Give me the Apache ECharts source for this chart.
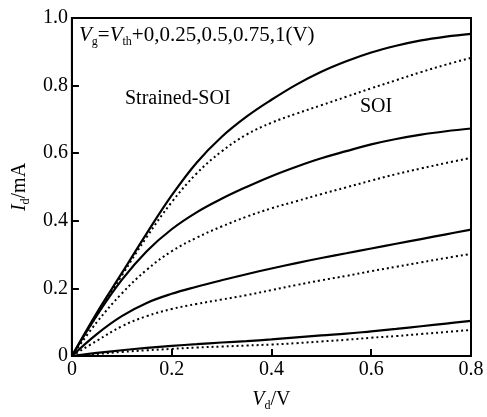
<!DOCTYPE html>
<html>
<head>
<meta charset="utf-8">
<script src="https://cdn.jsdelivr.net/npm/echarts@6/dist/echarts.min.js"></script>
<style>
  html, body { margin: 0; padding: 0; background: #fff; }
  #chart { width: 487px; height: 417px; }
</style>
</head>
<body>
<div id="chart"></div>
<script>
// Drain voltage samples (V)
const vd = [0, 0.05, 0.1, 0.15, 0.2, 0.25, 0.3, 0.35, 0.4, 0.45, 0.5, 0.55, 0.6, 0.65, 0.7, 0.75, 0.8];

// Drain current (mA), strained-SOI device, Vg = Vth + 0.25 / 0.5 / 0.75 / 1 V
const strained025 = [0, 0.009, 0.017, 0.024, 0.030, 0.035, 0.040, 0.044, 0.049, 0.055, 0.061, 0.066, 0.073, 0.080, 0.088, 0.096, 0.104];
const strained050 = [0, 0.065, 0.118, 0.157, 0.184, 0.205, 0.224, 0.242, 0.259, 0.275, 0.290, 0.304, 0.318, 0.332, 0.346, 0.360, 0.374];
const strained075 = [0, 0.120, 0.225, 0.310, 0.375, 0.425, 0.465, 0.500, 0.532, 0.560, 0.585, 0.606, 0.626, 0.642, 0.655, 0.665, 0.673];
const strained100 = [0, 0.128, 0.245, 0.363, 0.475, 0.572, 0.648, 0.708, 0.758, 0.803, 0.841, 0.872, 0.898, 0.918, 0.934, 0.945, 0.953];

// Drain current (mA), conventional SOI device, same gate biases
const soi025 = [0, 0.006, 0.012, 0.017, 0.021, 0.025, 0.028, 0.031, 0.034, 0.038, 0.043, 0.048, 0.054, 0.059, 0.065, 0.071, 0.077];
const soi050 = [0, 0.045, 0.088, 0.118, 0.139, 0.154, 0.167, 0.180, 0.195, 0.210, 0.224, 0.237, 0.251, 0.264, 0.277, 0.290, 0.302];
const soi075 = [0, 0.100, 0.185, 0.255, 0.310, 0.350, 0.383, 0.412, 0.437, 0.458, 0.479, 0.499, 0.519, 0.538, 0.555, 0.571, 0.586];
const soi100 = [0, 0.120, 0.238, 0.352, 0.455, 0.540, 0.605, 0.655, 0.690, 0.717, 0.742, 0.767, 0.792, 0.816, 0.840, 0.862, 0.882];

// Axis tick values
const xTicks = [0, 0.2, 0.4, 0.6, 0.8];
const yTicks = [0, 0.2, 0.4, 0.6, 0.8, 1.0];

const SERIF = '"Liberation Serif", "Times New Roman", serif';

function pairs(ys) { return vd.map((v, i) => [v, ys[i]]); }

function curve(name, ys, dotted) {
  return {
    name: name,
    type: 'line',
    data: pairs(ys),
    smooth: 0.4,
    showSymbol: false,
    silent: true,
    lineStyle: {
      color: '#000',
      width: dotted ? 2 : 2.2,
      type: dotted ? [2, 3] : 'solid'
    }
  };
}

const tickLabel = v => (v === 0 ? '0' : v.toFixed(1));

const nameRich = {
  i: { fontFamily: SERIF, fontSize: 20, fontStyle: 'italic', color: '#000', lineHeight: 22 },
  s: { fontFamily: SERIF, fontSize: 12, color: '#000', lineHeight: 22, padding: [12, 0, 0, 0] }
};

const chart = echarts.init(document.getElementById('chart'), null, { renderer: 'canvas' });

chart.setOption({
  animation: false,
  backgroundColor: '#fff',
  grid: {
    left: 63, top: 18, right: 16, bottom: 52,
    show: true, borderColor: '#000', borderWidth: 2, backgroundColor: 'transparent'
  },
  xAxis: {
    type: 'value',
    min: xTicks[0], max: xTicks[xTicks.length - 1], interval: 0.2,
    axisLine: { show: true, lineStyle: { color: '#000', width: 2 } },
    axisTick: { show: true, inside: true, length: 7, lineStyle: { color: '#000', width: 2 } },
    splitLine: { show: false },
    axisLabel: { color: '#000', fontFamily: SERIF, fontSize: 20, margin: 4, formatter: tickLabel },
    name: '{i|V}{s|d}/V',
    nameLocation: 'middle',
    nameGap: 33,
    nameTextStyle: { rich: nameRich, fontFamily: SERIF, fontSize: 20, color: '#000' }
  },
  yAxis: {
    type: 'value',
    min: yTicks[0], max: yTicks[yTicks.length - 1], interval: 0.2,
    axisLine: { show: true, lineStyle: { color: '#000', width: 2 } },
    axisTick: { show: true, inside: true, length: 7, lineStyle: { color: '#000', width: 2 } },
    splitLine: { show: false },
    axisLabel: { color: '#000', fontFamily: SERIF, fontSize: 20, margin: 4, formatter: tickLabel },
    name: '{i|I}{s|d}/mA',
    nameLocation: 'middle',
    nameGap: 40,
    nameRotate: 90,
    nameTextStyle: { rich: nameRich, fontFamily: SERIF, fontSize: 20, color: '#000' }
  },
  series: [
    curve('Strained-SOI +0.25', strained025, false),
    curve('Strained-SOI +0.5', strained050, false),
    curve('Strained-SOI +0.75', strained075, false),
    curve('Strained-SOI +1', strained100, false),
    curve('SOI +0.25', soi025, true),
    curve('SOI +0.5', soi050, true),
    curve('SOI +0.75', soi075, true),
    curve('SOI +1', soi100, true)
  ],
  graphic: [
    {
      type: 'text', left: 79, top: 23, silent: true,
      style: {
        text: '{i|V}{s|g}{n|=}{i|V}{s|th}{n|+0,0.25,0.5,0.75,1(V)}',
        rich: {
          i: { fontFamily: SERIF, fontSize: 21, fontStyle: 'italic', fill: '#000', lineHeight: 24 },
          n: { fontFamily: SERIF, fontSize: 21, fill: '#000', lineHeight: 24 },
          s: { fontFamily: SERIF, fontSize: 12, fill: '#000', lineHeight: 24, padding: [13, 0, 0, 0] }
        }
      }
    },
    {
      type: 'text', left: 125, top: 89, silent: true,
      style: { text: 'Strained-SOI', fontFamily: SERIF, fontSize: 20, fill: '#000' }
    },
    {
      type: 'text', left: 360, top: 97, silent: true,
      style: { text: 'SOI', fontFamily: SERIF, fontSize: 20, fill: '#000' }
    }
  ]
});
</script>
</body>
</html>
